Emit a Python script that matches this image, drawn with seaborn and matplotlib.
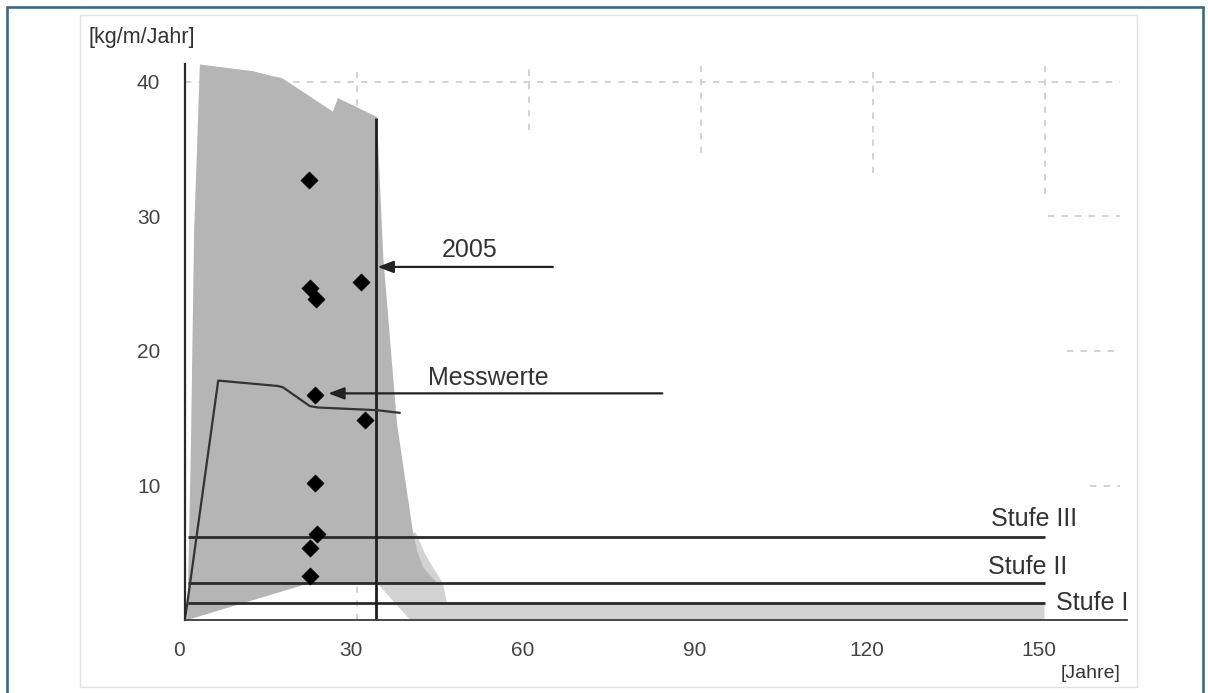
import matplotlib
matplotlib.use("Agg")
import matplotlib.pyplot as plt
from matplotlib.patches import Rectangle
from matplotlib.lines import Line2D
from matplotlib.transforms import ScaledTranslation
import seaborn as sns
import pandas as pd

# ---- data -------------------------------------------------------------
# measured points (age in years, load in kg/m/Jahr)
mess_x = [21.7, 21.8, 22.9, 30.8, 22.7, 31.4, 22.7, 23.0, 21.8, 21.9]
mess_y = [32.75, 24.65, 23.85, 25.15, 16.7, 14.9, 10.2, 6.4, 5.35, 3.27]

# mean curve
curve_x = [0.0, 5.8, 16.2, 17.1, 21.8, 23.2, 33.5, 37.5]
curve_y = [0.0, 17.8, 17.4, 17.3, 15.9, 15.8, 15.6, 15.4]

# outer range (dark band) outline
band_x = [0.4, 1.0, 1.6, 2.1, 2.6, 11.9, 15.6, 16.9, 25.8, 26.7, 33.5,
          34.6, 37.0, 39.8, 40.6, 41.6, 44.0, 21.8]
band_y = [0.0, 12.0, 29.0, 35.0, 41.3, 40.8, 40.4, 40.3, 37.8, 38.8, 37.4,
          27.0, 14.6, 6.5, 5.0, 3.9, 2.75, 2.75]

# tail range (light band) outline
tail_x = [33.5, 39.3, 150.0, 150.0, 45.7, 45.0, 43.3, 41.8, 40.3, 36.0]
tail_y = [2.75, 0.0, 0.0, 1.3, 1.3, 2.75, 3.9, 5.0, 6.5, 6.5]

# limit levels
stufen = ["Stufe III", "Stufe II", "Stufe I"]
stufen_y = [6.2, 2.75, 1.3]
stufen_label_x = [148.1, 147.0, 158.3]
stufen_label_y = [7.5, 3.94, 1.26]

year_2005 = 33.4
year_2005_top = 37.3

x_ticks = [0, 30, 60, 90, 120, 150]
y_ticks = [10, 20, 30, 40]

# ---- figure -----------------------------------------------------------
sns.set_style("white")
plt.rcParams["font.family"] = ["Liberation Sans", "DejaVu Sans"]

W, H = 1208, 693
fig = plt.figure(figsize=(W / 100, H / 100), dpi=100)
fig.patch.set_facecolor("white")

ax = fig.add_axes([80 / W, 6 / H, 1057 / W, 672 / H])
ax.set_xlim(-18.32, 166.14)
ax.set_ylim(-4.98, 44.98)
ax.set_facecolor("none")

# dashed grid pieces
grid_kw = dict(colors="#cfcfcf", linewidth=1.3, linestyles=(0, (3.5, 4.0)), zorder=1)
ax.vlines([30, 60, 90, 120, 150], [0, 36.4, 34.7, 33.2, 31.7], 41.2, **grid_kw)
ax.hlines([40, 30, 20, 10], [0, 150.6, 154.0, 158.0], 163.2, **grid_kw)

# ranges
ax.fill(tail_x, tail_y, color="#d3d3d3", linewidth=0, zorder=2)
ax.fill(band_x, band_y, color="#b5b5b5", linewidth=0, zorder=3)

# limit levels
ax.hlines(stufen_y, 0.5, 150, colors="#2a2a2a", linewidth=2.0, zorder=4)
for name, lx, ly in zip(stufen, stufen_label_x, stufen_label_y):
    ax.text(lx, ly, name, ha="center", va="center", fontsize=18, color="#333333", zorder=7)

# year 2005 marker line
ax.vlines(year_2005, 0, year_2005_top, colors="#1e1e1e", linewidth=2.0, zorder=4)

# mean curve
curve = pd.DataFrame({"x": curve_x, "y": curve_y})
sns.lineplot(data=curve, x="x", y="y", sort=False, estimator=None,
             color="#333333", linewidth=1.6, ax=ax, zorder=5)

# measurements
mess = pd.DataFrame({"x": mess_x, "y": mess_y})
sns.scatterplot(data=mess, x="x", y="y", marker="D", s=74, color="black",
                edgecolor="black", linewidth=0.6, ax=ax, zorder=6)

# annotations
arrow_kw = dict(arrowstyle="-|>,head_length=0.95,head_width=0.36", color="#222222",
                lw=1.6, shrinkA=0, shrinkB=0)
ax.annotate("", xy=(33.6, 26.25), xytext=(64.2, 26.25), arrowprops=arrow_kw, zorder=6)
ax.text(49.6, 27.5, "2005", ha="center", va="center", fontsize=18, color="#333333")
ax.annotate("", xy=(25.0, 16.85), xytext=(83.3, 16.85), arrowprops=arrow_kw, zorder=6)
ax.text(53.0, 17.97, "Messwerte", ha="center", va="center", fontsize=18, color="#333333")

# axes lines through the origin
for side in ["top", "right"]:
    ax.spines[side].set_visible(False)
ax.spines["left"].set_position(("data", 0))
ax.spines["left"].set_bounds(0, 41.3)
ax.spines["left"].set_color("#2a2a2a")
ax.spines["left"].set_linewidth(1.6)
ax.spines["bottom"].set_position(("data", 0))
ax.spines["bottom"].set_bounds(0, 164.4)
ax.spines["bottom"].set_color("#3a3a3a")
ax.spines["bottom"].set_linewidth(1.3)
for sp in ax.spines.values():
    sp.set_zorder(5)

ax.set_xticks(x_ticks)
ax.set_yticks(y_ticks)
ax.tick_params(axis="both", direction="inout", length=5.5, width=1.2, color="#333333",
               labelsize=15, labelcolor="#444444")
ax.tick_params(axis="y", pad=15)
ax.tick_params(axis="x", pad=12.5)
ax.set_xlabel("")
ax.set_ylabel("")
shift = ScaledTranslation(-6 / 100, 0, fig.dpi_scale_trans)
for lab in ax.get_xticklabels():
    lab.set_transform(lab.get_transform() + shift)

# unit labels
fig.text(88 / W, 1 - 38 / H, "[kg/m/Jahr]", ha="left", va="center", fontsize=15.5, color="#333333")
fig.text(1091 / W, 1 - 673 / H, "[Jahre]", ha="center", va="center", fontsize=14, color="#333333")

# thin panel frame
fig.add_artist(Rectangle((80 / W, 6 / H), 1057 / W, 672 / H, transform=fig.transFigure,
                         fill=False, edgecolor="#e2e2e2", linewidth=1.0))

# outer border (left, top, right)
bc = "#3e6a80"
fig.add_artist(Line2D([7 / W, 7 / W], [0, 1 - 7 / H], transform=fig.transFigure, color=bc, lw=1.9))
fig.add_artist(Line2D([7 / W, 1 - 5 / W], [1 - 7 / H, 1 - 7 / H], transform=fig.transFigure, color=bc, lw=1.9))
fig.add_artist(Line2D([1 - 5 / W, 1 - 5 / W], [0, 1 - 7 / H], transform=fig.transFigure, color=bc, lw=1.9))

fig.savefig("out.png", dpi=100, facecolor="white")
